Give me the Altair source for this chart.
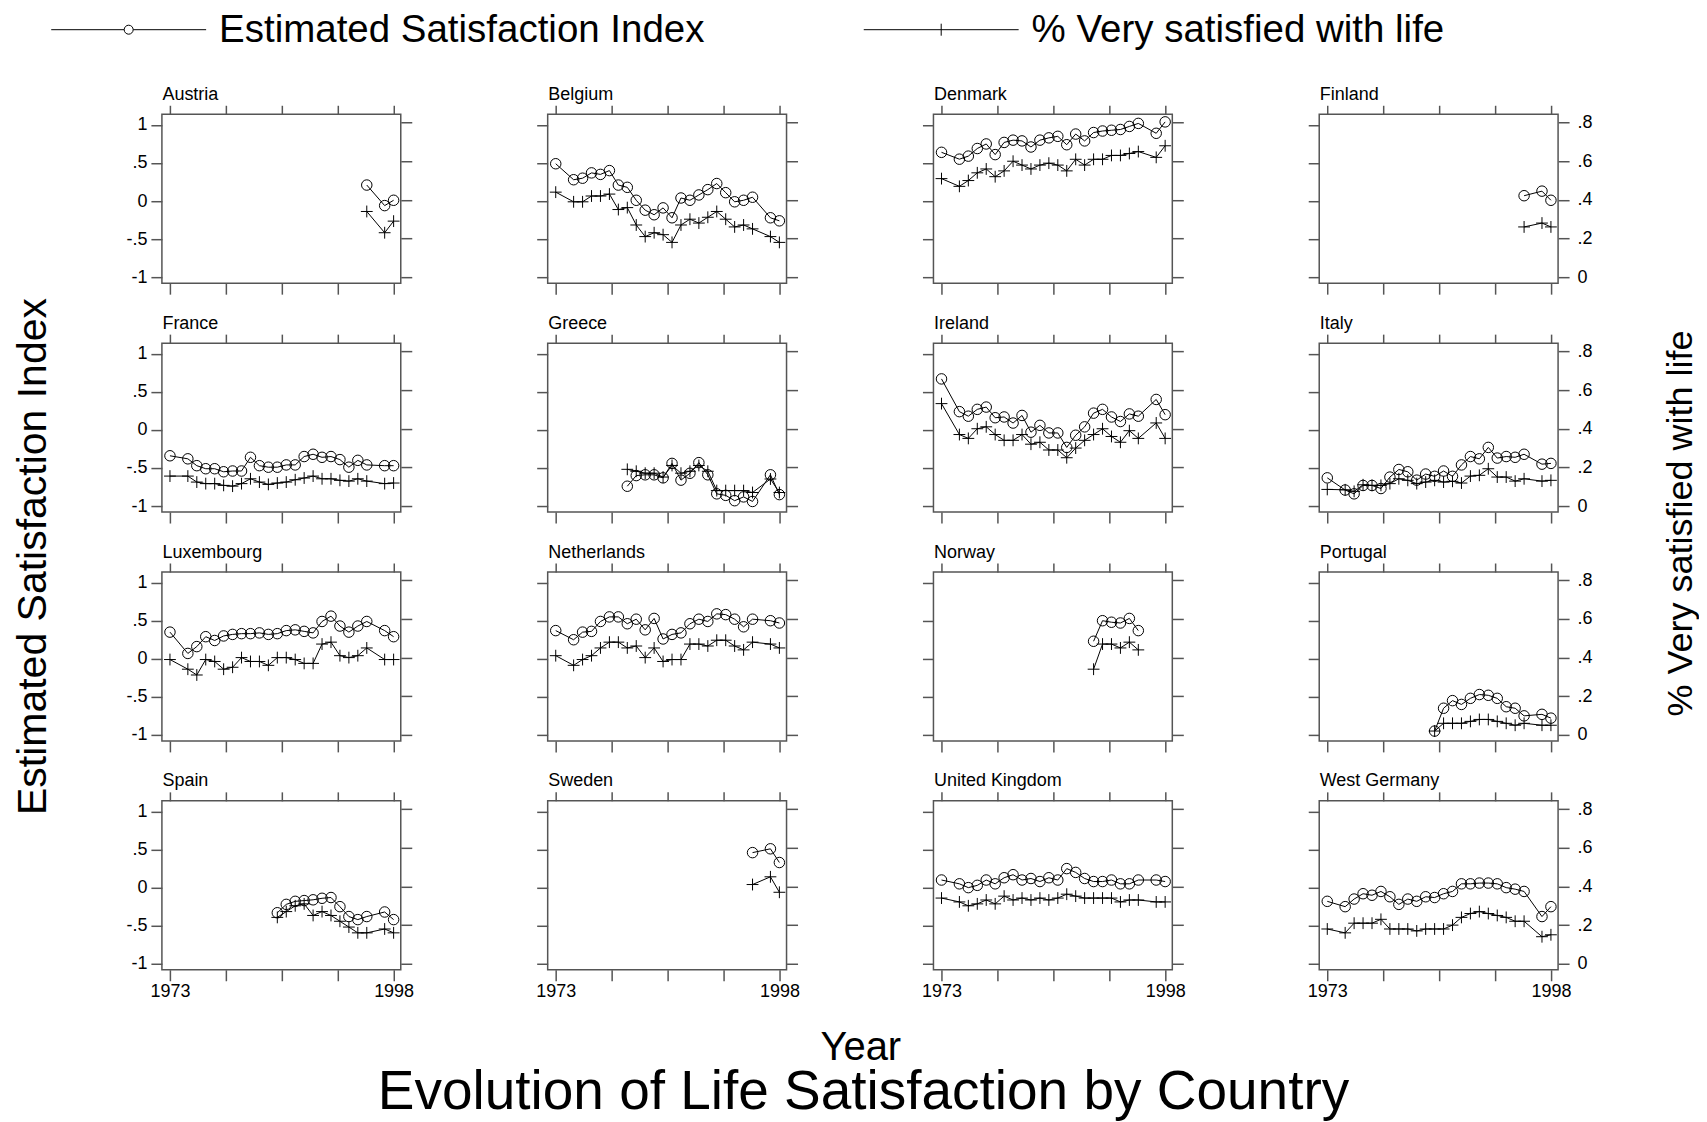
import altair as alt
import pandas as pd

FONT = "Liberation Sans"
IDX_LABEL = "Estimated Satisfaction Index"
PCT_LABEL = "% Very satisfied with life"
MAIN_TITLE = "Evolution of Life Satisfaction by Country"
X_TITLE = "Year"

# ---- survey years -------------------------------------------------------
YEARS_EC = [1973, 1975, 1976, 1977, 1978, 1979, 1980, 1981, 1982, 1983, 1984, 1985,
            1986, 1987, 1988, 1989, 1990, 1991, 1992, 1993, 1994, 1995, 1997, 1998]
YEARS_GR = [1981, 1982, 1983, 1984, 1985, 1986, 1987, 1988, 1989, 1990, 1991, 1992,
            1993, 1994, 1995, 1997, 1998]
YEARS_IB = [1985, 1986, 1987, 1988, 1989, 1990, 1991, 1992, 1993, 1994, 1995, 1997, 1998]
YEARS_NO = [1990, 1991, 1992, 1993, 1994, 1995]
YEARS_NEW = [1995, 1997, 1998]

# ---- values: index (left axis) and % very satisfied (right axis) ----------
AUSTRIA_IDX = [0.21, -0.06, 0.01]
AUSTRIA_PCT = [0.34, 0.23, 0.29]
BELGIUM_IDX = [0.49, 0.28, 0.30, 0.37, 0.35, 0.40, 0.21, 0.18, 0.01, -0.12, -0.18, -0.09,
               -0.22, 0.04, 0.01, 0.08, 0.15, 0.23, 0.11, -0.01, 0.01, 0.05, -0.22, -0.26]
BELGIUM_PCT = [0.44, 0.39, 0.39, 0.42, 0.42, 0.43, 0.35, 0.36, 0.27, 0.21, 0.23, 0.22,
               0.18, 0.27, 0.30, 0.28, 0.31, 0.34, 0.30, 0.26, 0.27, 0.25, 0.21, 0.18]
DENMARK_IDX = [0.64, 0.55, 0.59, 0.69, 0.75, 0.61, 0.77, 0.80, 0.79, 0.71, 0.80, 0.83,
               0.85, 0.74, 0.88, 0.79, 0.90, 0.92, 0.93, 0.94, 0.98, 1.02, 0.89, 1.04]
DENMARK_PCT = [0.51, 0.47, 0.50, 0.54, 0.56, 0.52, 0.55, 0.60, 0.58, 0.56, 0.58, 0.59,
               0.58, 0.55, 0.61, 0.58, 0.61, 0.61, 0.63, 0.63, 0.64, 0.65, 0.62, 0.68]
FINLAND_IDX = [0.07, 0.13, 0.01]
FINLAND_PCT = [0.26, 0.28, 0.26]
FRANCE_IDX = [-0.34, -0.38, -0.47, -0.51, -0.51, -0.55, -0.54, -0.54, -0.36, -0.47, -0.49, -0.49,
              -0.46, -0.46, -0.35, -0.32, -0.36, -0.35, -0.39, -0.49, -0.40, -0.46, -0.47, -0.47]
FRANCE_PCT = [0.155, 0.155, 0.124, 0.116, 0.116, 0.107, 0.103, 0.116, 0.141, 0.124, 0.112, 0.119,
              0.124, 0.136, 0.145, 0.155, 0.141, 0.141, 0.133, 0.129, 0.141, 0.129, 0.116, 0.119]
GREECE_IDX = [-0.74, -0.60, -0.59, -0.59, -0.63, -0.44, -0.66, -0.57, -0.43, -0.59, -0.84, -0.86,
              -0.93, -0.88, -0.94, -0.59, -0.85]
GREECE_PCT = [0.19, 0.18, 0.17, 0.17, 0.15, 0.21, 0.17, 0.18, 0.21, 0.18, 0.08, 0.08,
              0.08, 0.08, 0.07, 0.14, 0.07]
IRELAND_IDX = [0.67, 0.24, 0.18, 0.27, 0.30, 0.16, 0.17, 0.09, 0.19, -0.03, 0.06, -0.04,
               -0.04, -0.23, -0.07, 0.04, 0.22, 0.27, 0.17, 0.11, 0.21, 0.18, 0.40, 0.20]
IRELAND_PCT = [0.53, 0.37, 0.35, 0.40, 0.41, 0.37, 0.34, 0.34, 0.37, 0.32, 0.33, 0.29,
               0.29, 0.25, 0.30, 0.34, 0.37, 0.40, 0.36, 0.33, 0.39, 0.35, 0.43, 0.35]
ITALY_IDX = [-0.63, -0.79, -0.84, -0.73, -0.73, -0.77, -0.62, -0.52, -0.55, -0.66, -0.58, -0.61,
             -0.54, -0.61, -0.46, -0.35, -0.38, -0.23, -0.37, -0.35, -0.36, -0.32, -0.45, -0.44]
ITALY_PCT = [0.086, 0.084, 0.076, 0.110, 0.107, 0.107, 0.116, 0.141, 0.133, 0.116, 0.124, 0.133,
             0.124, 0.128, 0.119, 0.155, 0.159, 0.193, 0.150, 0.150, 0.129, 0.141, 0.129, 0.133]
LUXEMBOURG_IDX = [0.35, 0.07, 0.16, 0.29, 0.24, 0.30, 0.32, 0.33, 0.33, 0.34, 0.32, 0.33,
                  0.37, 0.38, 0.36, 0.34, 0.49, 0.56, 0.43, 0.35, 0.43, 0.49, 0.37, 0.29]
LUXEMBOURG_PCT = [0.39, 0.34, 0.31, 0.39, 0.38, 0.34, 0.35, 0.40, 0.38, 0.38, 0.36, 0.40,
                  0.40, 0.39, 0.37, 0.37, 0.47, 0.48, 0.41, 0.40, 0.41, 0.45, 0.39, 0.39]
NETHERLANDS_IDX = [0.37, 0.25, 0.35, 0.36, 0.49, 0.55, 0.55, 0.46, 0.52, 0.38, 0.53, 0.26,
                   0.32, 0.34, 0.46, 0.52, 0.49, 0.59, 0.58, 0.52, 0.42, 0.52, 0.50, 0.47]
NETHERLANDS_PCT = [0.41, 0.36, 0.39, 0.41, 0.45, 0.48, 0.48, 0.45, 0.46, 0.40, 0.45, 0.38,
                   0.39, 0.39, 0.47, 0.47, 0.46, 0.49, 0.49, 0.46, 0.44, 0.48, 0.47, 0.45]
NORWAY_IDX = [0.23, 0.50, 0.48, 0.47, 0.53, 0.37]
NORWAY_PCT = [0.34, 0.47, 0.47, 0.45, 0.48, 0.44]
PORTUGAL_IDX = [-0.95, -0.65, -0.55, -0.60, -0.52, -0.47, -0.48, -0.52, -0.63, -0.65, -0.75, -0.73, -0.78]
PORTUGAL_PCT = [0.02, 0.06, 0.06, 0.06, 0.07, 0.08, 0.08, 0.07, 0.06, 0.05, 0.06, 0.05, 0.05]
SPAIN_IDX = [-0.33, -0.22, -0.18, -0.17, -0.16, -0.14, -0.13, -0.25, -0.38, -0.42, -0.38, -0.32, -0.42]
SPAIN_PCT = [0.24, 0.27, 0.30, 0.31, 0.25, 0.27, 0.25, 0.22, 0.19, 0.16, 0.16, 0.18, 0.16]
SWEDEN_IDX = [0.46, 0.51, 0.33]
SWEDEN_PCT = [0.41, 0.45, 0.37]
UK_IDX = [0.10, 0.05, 0.00, 0.03, 0.10, 0.05, 0.13, 0.17, 0.10, 0.12, 0.08, 0.13,
          0.10, 0.25, 0.20, 0.12, 0.08, 0.08, 0.10, 0.05, 0.05, 0.10, 0.10, 0.08]
UK_PCT = [0.34, 0.32, 0.30, 0.31, 0.33, 0.31, 0.35, 0.33, 0.34, 0.33, 0.34, 0.33,
          0.34, 0.36, 0.35, 0.34, 0.34, 0.34, 0.34, 0.32, 0.33, 0.33, 0.32, 0.32]
WGERMANY_IDX = [-0.18, -0.25, -0.15, -0.08, -0.10, -0.05, -0.12, -0.22, -0.15, -0.18, -0.12, -0.13,
                -0.08, -0.05, 0.05, 0.05, 0.06, 0.06, 0.05, 0.00, -0.02, -0.05, -0.38, -0.25]
WGERMANY_PCT = [0.18, 0.16, 0.21, 0.21, 0.21, 0.23, 0.18, 0.18, 0.18, 0.17, 0.18, 0.18,
                0.18, 0.20, 0.24, 0.26, 0.27, 0.26, 0.25, 0.24, 0.22, 0.22, 0.14, 0.15]

PANELS = [
    ("Austria", YEARS_NEW, AUSTRIA_IDX, AUSTRIA_PCT),
    ("Belgium", YEARS_EC, BELGIUM_IDX, BELGIUM_PCT),
    ("Denmark", YEARS_EC, DENMARK_IDX, DENMARK_PCT),
    ("Finland", YEARS_NEW, FINLAND_IDX, FINLAND_PCT),
    ("France", YEARS_EC, FRANCE_IDX, FRANCE_PCT),
    ("Greece", YEARS_GR, GREECE_IDX, GREECE_PCT),
    ("Ireland", YEARS_EC, IRELAND_IDX, IRELAND_PCT),
    ("Italy", YEARS_EC, ITALY_IDX, ITALY_PCT),
    ("Luxembourg", YEARS_EC, LUXEMBOURG_IDX, LUXEMBOURG_PCT),
    ("Netherlands", YEARS_EC, NETHERLANDS_IDX, NETHERLANDS_PCT),
    ("Norway", YEARS_NO, NORWAY_IDX, NORWAY_PCT),
    ("Portugal", YEARS_IB, PORTUGAL_IDX, PORTUGAL_PCT),
    ("Spain", YEARS_IB, SPAIN_IDX, SPAIN_PCT),
    ("Sweden", YEARS_NEW, SWEDEN_IDX, SWEDEN_PCT),
    ("United Kingdom", YEARS_EC, UK_IDX, UK_PCT),
    ("West Germany", YEARS_EC, WGERMANY_IDX, WGERMANY_PCT),
]

# ---- axes ---------------------------------------------------------------
X_DOMAIN = [1972.1, 1998.8]
X_TICKS = [1973, 1979.25, 1985.5, 1991.75, 1998]
IDX_DOMAIN = [-1.079, 1.14]
IDX_TICKS = [-1, -0.5, 0, 0.5, 1]
PCT_DOMAIN = [-0.031, 0.843]
PCT_TICKS = [0, 0.2, 0.4, 0.6, 0.8]

W, H = 239, 169
GREY = "#555555"
PLUS = "M-1,0H1M0,-1V1"
LEG_CIRCLE = "M-3.8,0H10.8M12.6,0H27.2M12.6,0A0.9,0.9,0,1,1,10.8,0A0.9,0.9,0,1,1,12.6,0"
LEG_PLUS = "M-3.8,0H27.2M11.7,-1.2V1.2"

X_LABELS = "datum.value == 1973 || datum.value == 1998 ? '' + datum.value : ''"
IDX_LABELS = ("datum.value == 1 ? '1' : datum.value == -1 ? '-1' : datum.value == 0 ? '0' : "
              "datum.value > 0 ? '.5' : '-.5'")
PCT_LABELS = "datum.value == 0 ? '0' : '.' + round(datum.value * 10)"


def axis(orient, values, labels, expr, tick, pad, title=None, **tkw):
    kw = dict(orient=orient, values=values, labels=labels, labelExpr=expr,
              tickSize=tick, tickColor=GREY, tickWidth=1.5, labelPadding=pad,
              labelFontSize=18, labelFont=FONT, labelColor="black",
              labelFlush=False, labelOverlap=False, domain=False, grid=False,
              minExtent=0, title=title)
    if title is not None:
        kw.update(titleFont=FONT, titleFontWeight="normal", titleColor="black",
                  titleBaseline="alphabetic", titleAlign="center")
        kw.update(tkw)
    return alt.Axis(**kw)


def make_panel(k, name, years, idx, pct):
    row, col = divmod(k, 4)
    df = pd.DataFrame({"year": years, "idx": idx, "pct": pct})
    xs = alt.Scale(domain=X_DOMAIN, nice=False, zero=False)

    # the big shared titles hang off the axes of particular panels
    x_title = X_TITLE if (row == 3 and col == 1) else None
    l_title = IDX_LABEL if (row == 1 and col == 0) else None
    r_title = PCT_LABEL if (row == 1 and col == 3) else None

    xb = alt.X("year:Q", scale=xs,
               axis=axis("bottom", X_TICKS, row == 3, X_LABELS, 11, 2, x_title,
                         titleFontSize=40, titleAngle=0, titleX=312.8, titleY=90))
    # country name sits on the top axis as its title
    xt = alt.X("year:Q", scale=xs,
               axis=axis("top", X_TICKS, False, X_LABELS, 9, 2, name,
                         titleFontSize=18, titleAngle=0, titleX=0, titleY=-15,
                         titleAlign="left"))
    yl = alt.Y("idx:Q", scale=alt.Scale(domain=IDX_DOMAIN, nice=False, zero=False),
               axis=axis("left", IDX_TICKS, col == 0, IDX_LABELS, 11, 4, l_title,
                         titleFontSize=41, titleAngle=270, titleX=-116, titleY=213))
    yr = alt.Y("pct:Q", scale=alt.Scale(domain=PCT_DOMAIN, nice=False, zero=False),
               axis=axis("right", PCT_TICKS, col == 3, PCT_LABELS, 11, 8, r_title,
                         titleFontSize=36, titleAngle=270, titleX=133, titleY=180))

    bi = alt.Chart(df).encode(x=xb, y=yl)
    bp = alt.Chart(df).encode(x=xt, y=yr)
    idx_layers = [
        bi.mark_line(color="black", strokeWidth=1),
        bi.mark_point(shape="circle", filled=False, color="black", size=110,
                      strokeWidth=1, opacity=1),
    ]
    if k == 0:
        dummy = pd.DataFrame({"series": [IDX_LABEL, PCT_LABEL], "year": [1985, 1985],
                              "idx": [0, 0]})
        idx_layers.append(
            alt.Chart(dummy).mark_point(opacity=0, filled=False, color="black").encode(
                x=xb, y=yl,
                shape=alt.Shape("series:N",
                                scale=alt.Scale(domain=[IDX_LABEL, PCT_LABEL],
                                                range=[LEG_CIRCLE, LEG_PLUS]),
                                legend=alt.Legend(
                                    orient="none", legendX=-111, legendY=-104,
                                    direction="horizontal", title=None, padding=0,
                                    labelFontSize=38.5, labelFont=FONT, labelColor="black",
                                    labelLimit=0, labelOffset=129.7, columnPadding=157,
                                    symbolSize=100, symbolStrokeWidth=1,
                                    symbolStrokeColor="black",
                                    symbolFillColor="transparent", symbolOpacity=1)))
        )
    li = alt.layer(*idx_layers)
    lp = alt.layer(
        bp.mark_line(color="black", strokeWidth=1),
        bp.mark_point(shape=PLUS, filled=False, color="black", size=140,
                      strokeWidth=1, opacity=1),
    )
    return (alt.layer(li, lp)
            .resolve_scale(y="independent")
            .resolve_axis(x="independent", y="independent")
            .properties(width=W, height=H))


panels = [make_panel(k, *p) for k, p in enumerate(PANELS)]

chart = alt.concat(*panels, columns=4, spacing={"row": 60, "column": 147}, bounds="flush",
                   title=alt.TitleParams(MAIN_TITLE, orient="bottom", anchor="middle",
                                         fontSize=55, fontWeight="normal", dx=8,
                                         font=FONT, color="black", baseline="alphabetic",
                                         offset=41))

chart = (chart
         .properties(padding={"left": 4, "top": 2, "right": 0, "bottom": 0})
         .configure(font=FONT)
         .configure_view(stroke=GREY, strokeWidth=1.5))

chart.save("out.html", embed_options={"renderer": "svg", "actions": False})
